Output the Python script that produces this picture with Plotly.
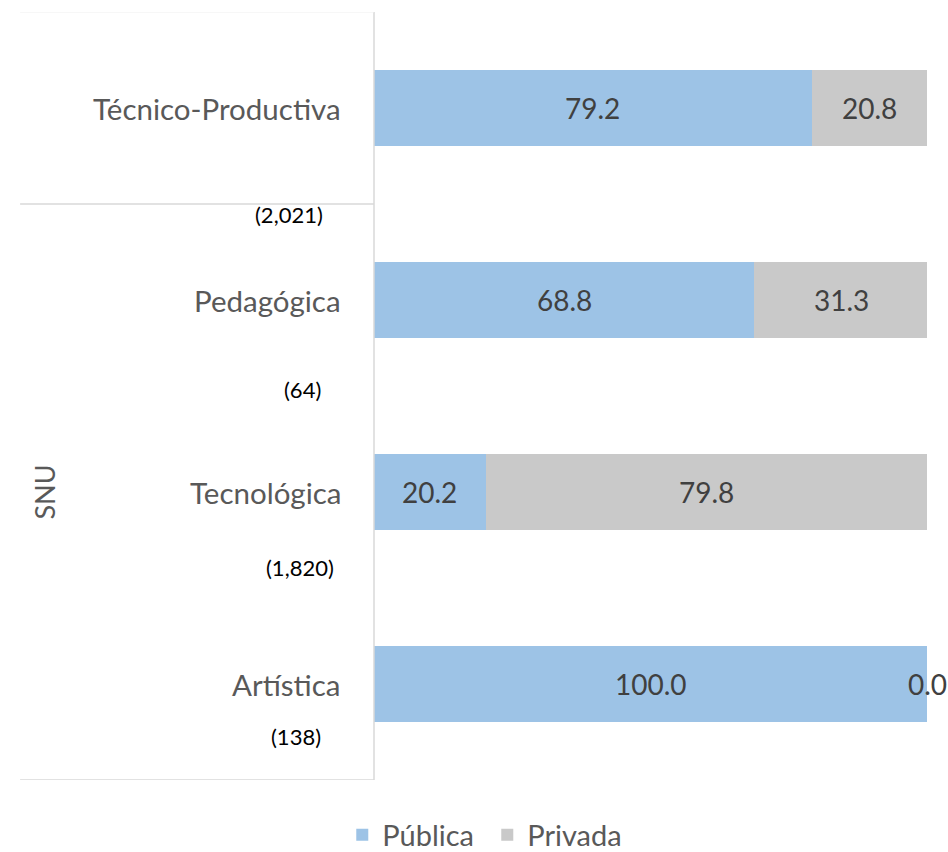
import plotly.graph_objects as go

categories = ["Artística", "Tecnológica", "Pedagógica", "Técnico-Productiva"]
counts = ["(138)", "(1,820)", "(64)", "(2,021)"]
publica = [100.0, 20.2, 68.8, 79.2]
privada = [0.0, 79.8, 31.3, 20.8]
group_label = "SNU"

FONT = "Lato"
C_PUB = "#9DC3E6"
C_PRI = "#C9C9C9"
LINE = "#D9D9D9"

fig = go.Figure()
fig.add_trace(go.Bar(y=categories, x=publica, orientation="h", name="Pública",
                     marker=dict(color=C_PUB, line=dict(width=0))))
fig.add_trace(go.Bar(y=categories, x=privada, orientation="h", name="Privada",
                     marker=dict(color=C_PRI, line=dict(width=0))))

ann = []
for c, p, q in zip(categories, publica, privada):
    ann.append(dict(x=p / 2, y=c, xref="x", yref="y", text=f"{p:.1f}", showarrow=False,
                    font=dict(family=FONT, size=28, color="#404040")))
    ann.append(dict(x=p + q / 2, y=c, xref="x", yref="y", text=f"{q:.1f}", showarrow=False,
                    font=dict(family=FONT, size=28, color="#404040")))
    ann.append(dict(x=0, y=c, xref="paper", yref="y", text=c, showarrow=False,
                    xanchor="right", xshift=-31,
                    font=dict(family=FONT, size=29.5, color="#595959")))

# count label placement (layout only)
count_dy = [-52, -75, -89, -106]
count_dx = [-51, -38, -51, -49]
for c, n, dy, dx in zip(categories, counts, count_dy, count_dx):
    ann.append(dict(x=0, y=c, xref="paper", yref="y", text=n, showarrow=False,
                    xanchor="right", xshift=dx, yshift=dy,
                    font=dict(family=FONT, size=22, color="#000000")))

ann.append(dict(x=-0.631, y=1.0, xref="paper", yref="y", text=group_label, showarrow=False,
                textangle=-90, font=dict(family=FONT, size=27, color="#595959")))

left = -0.640
shapes = [
    dict(type="line", xref="paper", yref="paper", x0=0, x1=0, y0=0, y1=1,
         line=dict(color=LINE, width=1.5)),
    dict(type="line", xref="paper", yref="y", x0=left, x1=0, y0=2.5, y1=2.5,
         line=dict(color=LINE, width=1.5)),
    dict(type="line", xref="paper", yref="y", x0=left, x1=0, y0=-0.5, y1=-0.5,
         line=dict(color=LINE, width=1.5)),
    dict(type="line", xref="paper", yref="y", x0=left, x1=0, y0=3.5, y1=3.5,
         line=dict(color="#EFEFEF", width=1)),
]

fig.update_layout(
    width=948, height=852,
    margin=dict(l=374, r=21, t=12, b=72),
    paper_bgcolor="white", plot_bgcolor="white",
    barmode="stack", bargap=0.6,
    xaxis=dict(range=[0, 100], visible=False, fixedrange=True),
    yaxis=dict(categoryorder="array", categoryarray=categories, showticklabels=False,
               showgrid=False, zeroline=False, showline=False, ticks="",
               range=[-0.5, 3.5]),
    annotations=ann, shapes=shapes,
    showlegend=True,
    legend=dict(orientation="h", xref="container", yref="container",
                x=0.514, y=0.02, xanchor="center", yanchor="middle",
                font=dict(family=FONT, size=29, color="#595959"),
                entrywidth=100, entrywidthmode="pixels",
                traceorder="normal"),
    font=dict(family=FONT),
)

fig.write_html("out.html", config={"displayModeBar": False},
               post_script="document.body.style.margin='0';")
